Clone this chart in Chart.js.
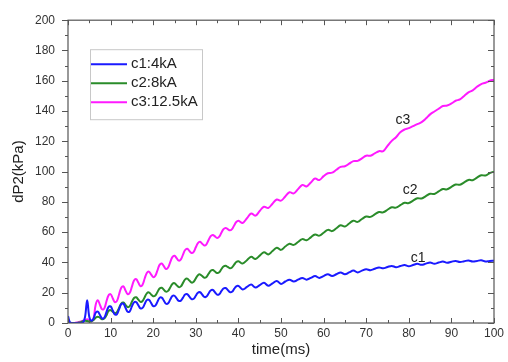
<!DOCTYPE html>
<html>
<head>
<meta charset="utf-8">
<script src="https://cdn.jsdelivr.net/npm/chart.js@4.4.1/dist/chart.umd.min.js"></script>
<style>
  html, body { margin: 0; padding: 0; background: #fff; }
</style>
</head>
<body>
<canvas id="pressureChart" width="508" height="362"></canvas>
<script>
// time axis (ms): fine steps while the oscillation is strong, 1 ms after 40 ms
const timeMs = [0,0.5,1,1.5,2,2.5,3,3.5,4,4.5,5,5.5,6,6.5,7,7.5,8,8.5,9,9.5,10,10.5,11,11.5,12,12.5,13,13.5,14,14.5,15,15.5,16,16.5,17,17.5,18,18.5,19,19.5,20,20.5,21,21.5,22,22.5,23,23.5,24,24.5,25,25.5,26,26.5,27,27.5,28,28.5,29,29.5,30,30.5,31,31.5,32,32.5,33,33.5,34,34.5,35,35.5,36,36.5,37,37.5,38,38.5,39,39.5,40,
  41,42,43,44,45,46,47,48,49,50,51,52,53,54,55,56,57,58,59,60,61,62,63,64,65,66,67,68,69,70,71,72,73,74,75,76,77,78,79,80,81,82,83,84,85,86,87,88,89,90,91,92,93,94,95,96,97,98,99,100];

// c1 : 4kA
const c1Values = [4.5,0.3,0,0,0,0,0,0.2,4,15,4,1.5,3,
  6.8,7.5,5.3,3,3.5,7,10.5,11,8.3,5.6,5.9,9.2,
  12.5,12.8,10.1,7.4,7.7,11,13.6,13.8,11.8,9.7,10,12.5,
  15.1,15.3,13.3,11.2,11.5,14,16.6,16.8,14.8,12.7,13,15.5,
  17.8,18,16.2,14.6,14.8,16.8,18.8,19,17.4,15.8,16,18,
  20,20.3,18.8,17.2,17.5,19.5,21.5,21.8,20.3,18.7,19,21,
  22.8,23.1,21.8,20.4,20.6,22.5,24.2,24.5,
  22.2,23.8,25.4,23.4,25,26.6,24.6,26.2,27.8,25.8,
  27.4,28.6,27.4,28.6,29.8,28.6,29.8,31,29.8,31,
  32.2,31,32.2,33.4,32.2,33.4,34.6,33.4,34.6,35.5,
  34.9,35.8,36.7,36.1,37,37.7,36.9,37.6,38.3,37.5,
  38.3,39.1,38.4,39.2,40,39.2,39.9,40.6,39.8,40.5,
  41,40.3,40.8,41.3,40.6,41,41.4,40.6,41,41.2];

// c2 : 8kA
const c2Values = [0,0,0,0,0,0.3,0.6,1.2,1.5,1.3,1,1.2,2,
  3.5,4.2,3.5,2.5,3,5,7.8,8.5,7.5,6.5,7.2,10,
  12.8,13.5,12,10.5,11.2,14,16.5,17,15.5,14,14.5,17,
  19.6,20.2,18.9,17.7,18.2,20.5,22.8,23.3,22,20.7,21.2,23.5,
  25.8,26.3,25,23.7,24.2,26.5,28.8,29.3,28,26.7,27.2,29.5,
  31.6,32.1,31,29.9,30.4,32.5,34.5,35,34,33,33.5,35.5,
  37.3,37.8,37,36.2,36.7,38.5,40.3,40.8,
  39.3,41.5,43.7,42.3,44.5,46.7,45.3,47.5,49.7,48.3,
  50.5,52.4,51.6,53.5,55.4,54.6,56.6,58.5,57.7,59.6,
  61.5,60.7,62.6,64.5,63.7,65.7,67.6,66.8,68.7,70.3,
  70.1,71.7,73.3,73.1,74.8,76.4,76.2,77.8,79.4,79.2,
  80.8,82.4,82.2,83.8,85.4,85.2,86.9,88.5,88.3,89.9,
  91.5,91.3,92.9,94.5,94.3,96,97.6,97.4,99,100];

// c3 : 12.5kA
const c3Values = [0,0,0,0,0.3,0.5,1,1.5,2,2.5,2,1,3,
  12,15,12,9,9.5,14,18.2,19,16.4,13.8,14.6,19,
  23.3,24.2,21.5,19.1,20,24,28.1,29,26.7,24.4,25.3,29.4,
  33,33.9,32.1,30.3,31.2,34.8,38.4,39.3,37.5,35.7,36.6,40.2,
  43.5,44.4,42.8,41.2,42,45.2,48.2,49,47.6,46.2,47,50,
  52.8,53.6,52.4,51.2,52,54.8,57.4,58.2,57.2,56.2,57,59.6,
  62,62.8,62,61.2,62,64.4,66.7,67.5,
  66.1,69.2,72.3,70.9,74,76.8,76,78.8,81.6,80.8,
  83.6,86.4,85.6,88.4,91.2,90.2,92.8,95.4,94.4,97,
  98.9,99.3,101.2,103.1,103.5,105.2,106.9,107.1,108.8,110.5,
  110.5,112,113.5,113.5,117,120.3,122.7,126,127.8,128.7,
  130,131.3,132.7,135,137.8,139.7,141.5,143.3,143.7,145,
  146.8,147.7,150,152.3,153.7,156,157.8,158.7,160,160.7];

const seriesNames = ["c1:4kA", "c2:8kA", "c3:12.5kA"];
const curveTags = ["c1", "c2", "c3"];
const seriesColors = ["#1a1aff", "#2a8c2a", "#ff1aff"];

const xTickValues = [0, 10, 20, 30, 40, 50, 60, 70, 80, 90, 100];
const yTickValues = [0, 20, 40, 60, 80, 100, 120, 140, 160, 180, 200];

const fontFamily = "Arial, 'Liberation Sans', sans-serif";

function toPoints(values) {
    return timeMs.map((t, i) => ({ x: t, y: values[i] }));
}

// frame + Origin-style ticks, legend box and curve tags
const decorPlugin = {
    id: "decor",
    afterDatasetsDraw(chart) {
        const ctx = chart.ctx;
        const a = chart.chartArea;
        const xs = chart.scales.x;
        const ys = chart.scales.y;

        ctx.save();
        ctx.strokeStyle = "#555";
        ctx.lineWidth = 1.2;
        ctx.strokeRect(a.left, a.top, a.right - a.left, a.bottom - a.top);

        ctx.lineWidth = 1;
        ctx.beginPath();
        for (let v = 0; v <= 100; v += 5) {
            const px = Math.round(xs.getPixelForValue(v)) + 0.5;
            const len = v % 10 === 0 ? 5 : 3;
            ctx.moveTo(px, a.bottom); ctx.lineTo(px, a.bottom - len);
            ctx.moveTo(px, a.top); ctx.lineTo(px, a.top + len);
        }
        for (let v = 0; v <= 200; v += 10) {
            const py = Math.round(ys.getPixelForValue(v)) + 0.5;
            const len = v % 20 === 0 ? 6 : 3;
            ctx.moveTo(a.left, py); ctx.lineTo(a.left - len, py);
            ctx.moveTo(a.right, py); ctx.lineTo(a.right - len, py);
        }
        ctx.stroke();

        // legend
        const lx = a.left + 22, ly = a.top + 29;
        ctx.fillStyle = "#fff";
        ctx.fillRect(lx, ly, 112, 70);
        ctx.strokeStyle = "#c8c8c8";
        ctx.strokeRect(lx + 0.5, ly + 0.5, 112, 70);
        ctx.font = "15px " + fontFamily;
        ctx.textBaseline = "middle";
        ctx.textAlign = "left";
        seriesNames.forEach((name, i) => {
            const ry = ly + 15 + i * 19;
            ctx.strokeStyle = seriesColors[i];
            ctx.lineWidth = 2;
            ctx.beginPath();
            ctx.moveTo(lx + 1, ry);
            ctx.lineTo(lx + 37, ry);
            ctx.stroke();
            ctx.fillStyle = "#222";
            ctx.fillText(name, lx + 41, ry);
        });

        // curve tags
        const tagSpots = [[82.2, 43], [80.3, 88], [78.6, 134]];
        ctx.font = "14px " + fontFamily;
        ctx.textAlign = "center";
        ctx.fillStyle = "#222";
        curveTags.forEach((tag, i) => {
            ctx.fillText(tag, xs.getPixelForValue(tagSpots[i][0]), ys.getPixelForValue(tagSpots[i][1]));
        });
        ctx.restore();
    }
};

const ctx = document.getElementById("pressureChart").getContext("2d");

new Chart(ctx, {
    type: "line",
    data: {
        datasets: [c1Values, c2Values, c3Values].map((vals, i) => ({
            label: seriesNames[i],
            data: toPoints(vals),
            borderColor: seriesColors[i],
            borderWidth: 2,
            pointRadius: 0,
            tension: 0.4,
            fill: false
        }))
    },
    options: {
        responsive: false,
        animation: false,
        devicePixelRatio: 1,
        layout: { padding: { top: 13, right: 14, left: 0, bottom: 0 } },
        plugins: {
            legend: { display: false },
            tooltip: { enabled: false }
        },
        scales: {
            x: {
                type: "linear",
                min: 0,
                max: 100,
                afterFit: (s) => { s.height = 39; },
                afterBuildTicks: (s) => { s.ticks = xTickValues.map(v => ({ value: v })); },
                grid: { display: false, drawTicks: false },
                border: { display: false },
                ticks: {
                    padding: 3,
                    maxRotation: 0,
                    color: "#333",
                    font: { family: fontFamily, size: 12 }
                },
                title: {
                    display: true,
                    text: "time(ms)",
                    color: "#222",
                    font: { family: fontFamily, size: 15 },
                    padding: { top: 0, bottom: 3 }
                }
            },
            y: {
                min: 0,
                max: 200,
                afterFit: (s) => { s.width = 68; },
                afterBuildTicks: (s) => { s.ticks = yTickValues.map(v => ({ value: v })); },
                grid: { display: false, drawTicks: false },
                border: { display: false },
                ticks: {
                    padding: 13,
                    color: "#333",
                    font: { family: fontFamily, size: 12 }
                },
                title: {
                    display: true,
                    text: "dP2(kPa)",
                    color: "#222",
                    font: { family: fontFamily, size: 15 },
                    padding: { top: 10, bottom: 0 }
                }
            }
        }
    },
    plugins: [decorPlugin]
});
</script>
</body>
</html>
